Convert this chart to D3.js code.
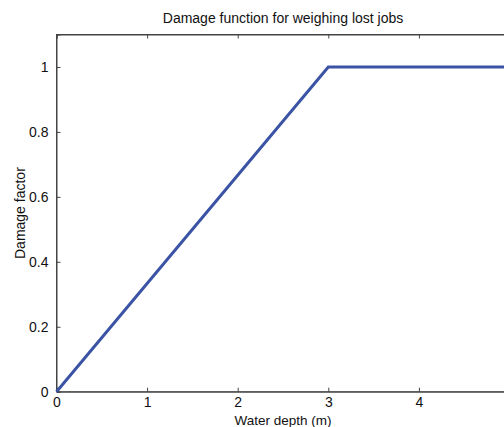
<!DOCTYPE html>
<html><head><meta charset="utf-8">
<script src="https://cdn.jsdelivr.net/npm/d3@7"></script>
<style>html,body{margin:0;padding:0;background:#fff;overflow:hidden}</style>
</head><body><div id="chart"></div>
<script>
const depth = [0, 3, 5];
const damage = [0, 1, 1];
const xTicks = [0, 1, 2, 3, 4, 5];
const xTickLabels = ["0", "1", "2", "3", "4", ""];
const yTicks = [0, 0.2, 0.4, 0.6, 0.8, 1];
const title = "Damage function for weighing lost jobs";
const xLabel = "Water depth (m)";
const yLabel = "Damage factor";

const W = 504, H = 427;
const L = 56.5, T = 34.5, R = 509.5, B = 391.7;
const FF = "'Liberation Sans', Arial, Helvetica, sans-serif";
const svg = d3.select("#chart").append("svg").attr("width", W).attr("height", H)
  .style("font-family", FF);
const x = d3.scaleLinear().domain([0, 5]).range([L, R]);
const y = d3.scaleLinear().domain([0, 1.1]).range([B, T]);
const ax = "#444";

svg.append("rect").attr("x", L).attr("y", T).attr("width", R - L).attr("height", B - T)
  .attr("fill", "none").attr("stroke", ax).attr("stroke-width", 1);

const fmt = d => d3.format("~g")(d);
const gx = svg.append("g").attr("transform", `translate(0,${B})`)
  .call(d3.axisBottom(x).tickValues(xTicks).tickSize(-4).tickPadding(5)
    .tickFormat((d, i) => xTickLabels[i]));
const gxt = svg.append("g").attr("transform", `translate(0,${T})`)
  .call(d3.axisTop(x).tickValues(xTicks).tickSize(-4).tickFormat(""));
const gy = svg.append("g").attr("transform", `translate(${L},0)`)
  .call(d3.axisLeft(y).tickValues(yTicks).tickSize(-4).tickPadding(8).tickFormat(fmt));
[gx, gxt, gy].forEach(g => {
  g.select(".domain").attr("stroke", ax);
  g.selectAll(".tick line").attr("stroke", ax);
  g.selectAll("text").attr("fill", "#111").style("font-size", "14px").style("font-family", FF);
});

svg.append("path").datum(depth.map((d, i) => [d, damage[i]]))
  .attr("fill", "none").attr("stroke", "#3a53a4").attr("stroke-width", 3)
  .attr("d", d3.line().x(d => x(d[0])).y(d => y(d[1])));

svg.append("text").attr("x", (L + R) / 2).attr("y", 23).attr("text-anchor", "middle")
  .style("font-size", "14px").attr("fill", "#111").text(title);
svg.append("text").attr("x", (L + R) / 2).attr("y", 424.5).attr("text-anchor", "middle")
  .style("font-size", "13.5px").attr("fill", "#111").text(xLabel);
svg.append("text").attr("transform", `translate(25,${(T + B) / 2}) rotate(-90)`).attr("text-anchor", "middle")
  .style("font-size", "14px").attr("fill", "#111").text(yLabel);
</script></body></html>
